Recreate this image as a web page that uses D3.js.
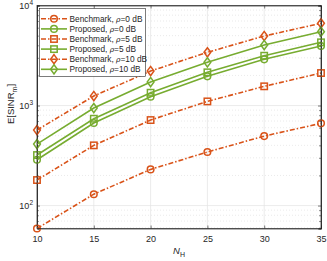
<!DOCTYPE html>
<html><head><meta charset="utf-8">
<script src="https://cdn.jsdelivr.net/npm/d3@7"></script>
<style>body{margin:0;background:#fff}svg{display:block;font-family:"Liberation Sans",Arial,sans-serif}</style>
</head><body><svg id="c" width="327" height="261"></svg>
<script>
const NH = [10, 15, 20, 25, 30, 35];
const benchRho0 = [59, 130, 230, 343, 495, 664];
const propRho0 = [287, 668, 1225, 1958, 2897, 3936];
const benchRho5 = [180, 400, 716, 1100, 1556, 2113];
const propRho5 = [320, 738, 1343, 2148, 3148, 4285];
const benchRho10 = [569, 1245, 2213, 3404, 4955, 6637];
const propRho10 = [412, 944, 1718, 2704, 4027, 5470];
const xTicks = [10, 15, 20, 25, 30, 35];
const yTicks = [100, 1000, 10000];
const labels = ["Benchmark", "Proposed", "Benchmark", "Proposed", "Benchmark", "Proposed"];
const rhos = ["0", "0", "5", "5", "10", "10"];

const orange = "#D95319", green = "#77AC30";
const series = [
  {v: benchRho0, c: orange, m: "circle", dash: true},
  {v: propRho0, c: green, m: "circle", dash: false},
  {v: benchRho5, c: orange, m: "square", dash: true},
  {v: propRho5, c: green, m: "square", dash: false},
  {v: benchRho10, c: orange, m: "diamond", dash: true},
  {v: propRho10, c: green, m: "diamond", dash: false}
];

const L = 37, R = 321, T = 5.5, B = 228.5;
const svg = d3.select("#c");
const x = d3.scaleLinear().domain([10, 35]).range([L, R]);
const y = d3.scaleLog().domain([59, 10000]).range([B, T]);
const ax = "#262626";

// grid
const g = svg.append("g");
const minors = [];
for (let k = 1; k <= 3; k++) for (let j = 2; j <= 9; j++) { const v = j * Math.pow(10, k); if (v >= 59 && v < 10000) minors.push(v); }
g.selectAll(".mg").data(minors).enter().append("line")
  .attr("x1", L).attr("x2", R).attr("y1", d => y(d)).attr("y2", d => y(d))
  .attr("stroke", "#dcdcdc").attr("stroke-width", 0.6).attr("stroke-dasharray", "1,2");
g.selectAll(".xg").data(xTicks.slice(1, -1)).enter().append("line")
  .attr("x1", d => x(d)).attr("x2", d => x(d)).attr("y1", T).attr("y2", B)
  .attr("stroke", "#e3e3e3").attr("stroke-width", 0.7);
g.selectAll(".yg").data(yTicks.slice(0, -1)).enter().append("line")
  .attr("x1", L).attr("x2", R).attr("y1", d => y(d)).attr("y2", d => y(d))
  .attr("stroke", "#e3e3e3").attr("stroke-width", 0.7);

// axes with inward ticks
const xa = d3.axisBottom(x).tickValues(xTicks).tickSize(-3).tickPadding(7).tickFormat(d3.format("d"));
const xg = svg.append("g").attr("transform", `translate(0,${B})`).call(xa);
const xt = svg.append("g").attr("transform", `translate(0,${T})`).call(d3.axisTop(x).tickValues(xTicks).tickSize(-3).tickFormat(""));
const ya = d3.axisLeft(y).tickValues(yTicks).tickSize(-3).tickPadding(5).tickFormat("");
const yg = svg.append("g").attr("transform", `translate(${L},0)`).call(ya);
const yr = svg.append("g").attr("transform", `translate(${R},0)`).call(d3.axisRight(y).tickValues(yTicks).tickSize(-3).tickFormat(""));
const ymL = svg.append("g").attr("transform", `translate(${L},0)`).call(d3.axisLeft(y).tickValues(minors).tickSize(-1.8).tickFormat(""));
const ymR = svg.append("g").attr("transform", `translate(${R},0)`).call(d3.axisRight(y).tickValues(minors).tickSize(-1.8).tickFormat(""));
[xg, xt, yg, yr, ymL, ymR].forEach(s => {
  s.select(".domain").attr("stroke", ax).attr("stroke-width", 0.7);
  s.selectAll(".tick line").attr("stroke", ax).attr("stroke-width", 0.6);
});
xg.selectAll("text").attr("fill", ax).attr("font-size", 9).attr("font-family", "Liberation Sans, Arial");

// y tick labels with superscript
const ylab = svg.append("g");
yTicks.forEach(v => {
  const t = ylab.append("text").attr("x", L - 4).attr("y", y(v) + 3.5).attr("text-anchor", "end")
    .attr("fill", ax).attr("font-size", 9);
  t.append("tspan").text("10");
  t.append("tspan").attr("dy", -4).attr("font-size", 6.5).text(String(Math.round(Math.log10(v))));
});

// lines & markers
const line = d3.line().x((d, i) => x(NH[i])).y(d => y(d));
function marker(sel, type, c) {
  if (type === "circle") sel.append("circle").attr("r", 3.3);
  else if (type === "square") sel.append("rect").attr("x", -3.2).attr("y", -3.2).attr("width", 6.4).attr("height", 6.4);
  else sel.append("path").attr("d", "M0,-4.6L3.4,0L0,4.6L-3.4,0Z");
  sel.selectAll("*").attr("fill", "none").attr("stroke", c).attr("stroke-width", 1.5);
}
const plot = svg.append("g");
series.forEach(s => {
  plot.append("path").datum(s.v).attr("d", line).attr("fill", "none").attr("stroke", s.c)
    .attr("stroke-width", 1.6).attr("stroke-dasharray", s.dash ? "5,2,1.5,2" : null);
  s.v.forEach((v, i) => {
    const m = plot.append("g").attr("transform", `translate(${x(NH[i])},${y(v)})`);
    marker(m, s.m, s.c);
  });
});

// frame on top
svg.append("rect").attr("x", L).attr("y", T).attr("width", R - L).attr("height", B - T)
  .attr("fill", "none").attr("stroke", ax).attr("stroke-width", 0.7);

// legend
const lg = svg.append("g");
lg.append("rect").attr("x", 39.5).attr("y", 8.5).attr("width", 106).attr("height", 68)
  .attr("fill", "#fff").attr("stroke", ax).attr("stroke-width", 0.6);
series.forEach((s, i) => {
  const yy = 18.8 + i * 10.1;
  lg.append("line").attr("x1", 41).attr("x2", 67).attr("y1", yy).attr("y2", yy)
    .attr("stroke", s.c).attr("stroke-width", 1.6).attr("stroke-dasharray", s.dash ? "5,2,1.5,2" : null);
  marker(lg.append("g").attr("transform", `translate(54,${yy})`), s.m, s.c);
  const t = lg.append("text").attr("x", 69.5).attr("y", yy + 3).attr("font-size", 8.3).attr("fill", ax);
  t.append("tspan").text(labels[i] + ", ");
  t.append("tspan").attr("font-style", "italic").attr("font-family", "DejaVu Serif, serif").attr("font-size", 7.5).text("ρ");
  t.append("tspan").text("=" + rhos[i] + " dB");
});

// axis labels
const xl = svg.append("text").attr("x", 179).attr("y", 254).attr("text-anchor", "middle").attr("fill", ax).attr("font-size", 9.5);
xl.append("tspan").attr("font-style", "italic").text("N");
xl.append("tspan").attr("dy", 2.5).attr("font-size", 7).text("H");

const yl = svg.append("text").attr("transform", `translate(14,${104}) rotate(-90)`).attr("text-anchor", "middle").attr("fill", ax).attr("font-size", 9.5);
yl.append("tspan").text("E[SINR");
yl.append("tspan").attr("dy", 2.5).attr("font-size", 7).text("m");
yl.append("tspan").attr("dy", -2.5).text("]");
</script></body></html>
